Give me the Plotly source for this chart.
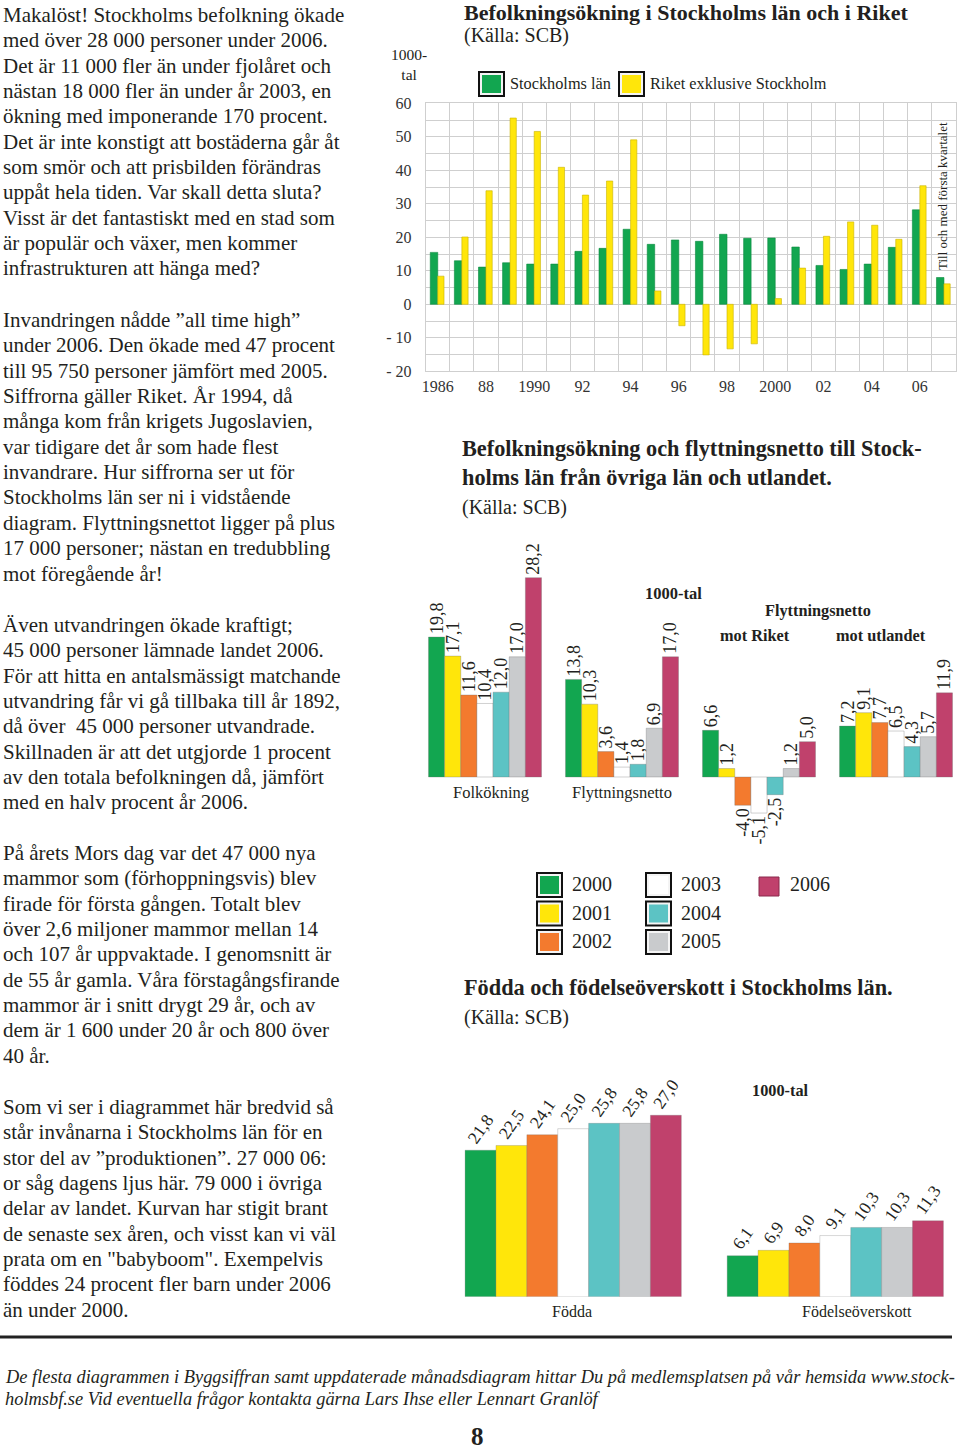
import plotly.graph_objects as go

W, H = 960, 1452
SERIF = "Liberation Serif, Times New Roman, serif"
INK = "#231f20"
GRID = "#cfcfcf"

# --- Befolkningsökning i Stockholms län och i Riket (1000-tal) ---
years = list(range(1986, 2008))
stockholm = [15.5, 13.0, 11.1, 12.4, 12.0, 12.0, 15.8, 16.7, 22.4, 17.9, 19.2,
             18.8, 20.9, 19.7, 19.8, 17.1, 11.6, 10.4, 12.0, 17.0, 28.2, 8.0]
riket = [8.4, 20.1, 33.9, 55.6, 51.6, 40.9, 32.6, 36.8, 49.1, 4.0, -6.4,
         -15.1, -13.3, -11.8, 1.7, 10.8, 20.3, 24.6, 23.6, 19.4, 35.4, 6.1]
year_ticks = [1986, 1988, 1990, 1992, 1994, 1996, 1998, 2000, 2002, 2004, 2006]
year_ticktext = ["1986", "88", "1990", "92", "94", "96", "98", "2000", "02", "04", "06"]
y_ticks = [-20, -10, 0, 10, 20, 30, 40, 50, 60]
y_ticktext = ["- 20", "- 10", "0", "10", "20", "30", "40", "50", "60"]
top_series = ["Stockholms län", "Riket exklusive Stockholm"]

# --- Befolkningsökning och flyttningsnetto 2000-2006 (1000-tal) ---
bar_years = ["2000", "2001", "2002", "2003", "2004", "2005", "2006"]
mid_categories = ["Folkökning", "Flyttningsnetto", "mot Riket", "mot utlandet"]
folkokning = [19.8, 17.1, 11.6, 10.4, 12.0, 17.0, 28.2]
flyttningsnetto = [13.8, 10.3, 3.6, 1.4, 1.8, 6.9, 17.0]
mot_riket = [6.6, 1.2, -4.0, -5.1, -2.5, 1.2, 5.0]
mot_utlandet = [7.2, 9.1, 7.7, 6.5, 4.3, 5.7, 11.9]

# --- Födda och födelseöverskott (1000-tal) ---
low_categories = ["Födda", "Födelseöverskott"]
fodda = [21.8, 22.5, 24.1, 25.0, 25.8, 25.8, 27.0]
fodelseoverskott = [6.1, 6.9, 8.0, 9.1, 10.3, 10.3, 11.3]

top_colors = ["#12a650", "#ffe60a"]
top_edges = ["#0b8a40", "#c9b300"]
year_colors = ["#12a650", "#ffe60a", "#f37a2e", "#ffffff", "#5cc3c4", "#c9cbcd", "#c0416c"]


def px(x):
    return x / W


def py(y):
    return 1 - y / H


def fmt(v):
    return f"{v:.1f}".replace(".", ",")


fig = go.Figure()

# top chart: green bar left of group centre, yellow right
fig.add_trace(go.Bar(x=years, y=stockholm, name=top_series[0], offset=-0.31, width=0.31,
                     marker=dict(color=top_colors[0], line=dict(color=top_edges[0], width=0.6)),
                     xaxis="x", yaxis="y"))
fig.add_trace(go.Bar(x=years, y=riket, name=top_series[1], offset=0.0, width=0.26,
                     marker=dict(color=top_colors[1], line=dict(color=top_edges[1], width=0.6)),
                     xaxis="x", yaxis="y"))

mid_font = dict(family=SERIF, size=18, color=INK)
low_font = dict(family=SERIF, size=17.5, color=INK)
for i, yr in enumerate(bar_years):
    vals = [folkokning[i], flyttningsnetto[i], mot_riket[i], mot_utlandet[i]]
    fig.add_trace(go.Bar(
        x=mid_categories, y=vals, name=yr, text=[fmt(v) for v in vals],
        textposition="outside", textangle=-90, constraintext="none", cliponaxis=False,
        textfont=mid_font, outsidetextfont=mid_font,
        marker=dict(color=year_colors[i], line=dict(color="rgba(110,110,110,0.55)", width=0.6)),
        xaxis="x2", yaxis="y2"))
    vals = [fodda[i], fodelseoverskott[i]]
    fig.add_trace(go.Bar(
        x=low_categories, y=vals, name=yr, text=[fmt(v) for v in vals],
        textposition="outside", textangle=-55, constraintext="none", cliponaxis=False,
        textfont=low_font, outsidetextfont=low_font,
        marker=dict(color=year_colors[i], line=dict(color="rgba(110,110,110,0.45)", width=0.6)),
        xaxis="x3", yaxis="y3"))

# axis placement in page pixels
top_l, top_r, top_t, top_b = 425.7, 956, 103.3, 371.3
mid_c0, mid_step, mid_base, mid_unit = 485, 137, 777, 7.07
mid_rng = [-0.5, 3.45]
mid_yr = [-6, 29]
low_c0, low_step, low_base, low_unit = 573.2, 262.1, 1296.7, 6.72
low_rng = [-0.5, 1.47]
low_yr = [0, 30]

tick_font = dict(family=SERIF, size=16, color="#333")
hidden = dict(showgrid=False, zeroline=False, showticklabels=False, showline=False, ticks="",
              automargin=False)

fig.update_layout(
    width=W, height=H, margin=dict(l=0, r=0, t=0, b=0, pad=0, autoexpand=False),
    paper_bgcolor="white", plot_bgcolor="white",
    showlegend=False, barmode="group", bargap=0.175, bargroupgap=0,
    font=dict(family=SERIF, color=INK),
    xaxis=dict(domain=[px(top_l), px(top_r)], range=[1985.5, 2007.5], automargin=False,
               tickmode="array", tickvals=year_ticks, ticktext=year_ticktext,
               showgrid=False, zeroline=False, ticks="", tickfont=tick_font,
               showline=True, mirror=True, linecolor=GRID, linewidth=1,
               minor=dict(tick0=1985.5, dtick=1, showgrid=True, gridcolor=GRID, gridwidth=1, ticks="")),
    yaxis=dict(domain=[py(top_b), py(top_t)], range=[-20, 60], automargin=False,
               tickmode="array", tickvals=y_ticks, ticktext=y_ticktext,
               showgrid=True, gridcolor=GRID, gridwidth=1, zeroline=False, ticks="",
               tickfont=tick_font, ticklabelstandoff=10,
               showline=True, mirror=True, linecolor=GRID, linewidth=1,
               minor=dict(dtick=5, showgrid=True, gridcolor=GRID, gridwidth=1, ticks="")),
    xaxis2=dict(domain=[px(mid_c0 + mid_rng[0] * mid_step), px(mid_c0 + mid_rng[1] * mid_step)],
                range=mid_rng, anchor="y2", **hidden),
    yaxis2=dict(domain=[py(mid_base - mid_yr[0] * mid_unit), py(mid_base - mid_yr[1] * mid_unit)],
                range=mid_yr, anchor="x2", **hidden),
    xaxis3=dict(domain=[px(low_c0 + low_rng[0] * low_step), px(low_c0 + low_rng[1] * low_step)],
                range=low_rng, anchor="y3", **hidden),
    yaxis3=dict(domain=[py(low_base - low_yr[0] * low_unit), py(low_base - low_yr[1] * low_unit)],
                range=low_yr, anchor="x3", **hidden),
)

annotations = []
shapes = []


def txt(x, y, s, size=20, anchor="left", color=INK, **kw):
    annotations.append(dict(x=px(x), y=py(y), xref="paper", yref="paper", text=s,
                            showarrow=False, xanchor=anchor, yanchor="middle", borderpad=0,
                            font=dict(family=SERIF, size=size, color=color), **kw))


def swatch(x, y, w, h, color, framed=True):
    if framed:
        shapes.append(dict(type="rect", xref="paper", yref="paper", x0=px(x), x1=px(x + w),
                           y0=py(y + h), y1=py(y), line=dict(color="#111", width=2), fillcolor="#f4f4f4"))
        shapes.append(dict(type="rect", xref="paper", yref="paper", x0=px(x + 3), x1=px(x + w - 3),
                           y0=py(y + h - 3), y1=py(y + 3), line=dict(width=0), fillcolor=color))
    else:
        shapes.append(dict(type="rect", xref="paper", yref="paper", x0=px(x), x1=px(x + w),
                           y0=py(y + h), y1=py(y), line=dict(color="#8a2a4c", width=1), fillcolor=color))


# left column text
paragraphs = [
    (15, ["Makalöst! Stockholms befolkning ökade",
          "med över 28 000 personer under 2006.",
          "Det är 11 000 fler än under fjolåret och",
          "nästan 18 000 fler än under år 2003, en",
          "ökning med imponerande 170 procent.",
          "Det är inte konstigt att bostäderna går åt",
          "som smör och att prisbilden förändras",
          "uppåt hela tiden. Var skall detta sluta?",
          "Visst är det fantastiskt med en stad som",
          "är populär och växer, men kommer",
          "infrastrukturen att hänga med?"]),
    (320, ["Invandringen nådde ”all time high”",
           "under 2006. Den ökade med 47 procent",
           "till 95 750 personer jämfört med 2005.",
           "Siffrorna gäller Riket. År 1994, då",
           "många kom från krigets Jugoslavien,",
           "var tidigare det år som hade flest",
           "invandrare. Hur siffrorna ser ut för",
           "Stockholms län ser ni i vidstående",
           "diagram. Flyttningsnettot ligger på plus",
           "17 000 personer; nästan en tredubbling",
           "mot föregående år!"]),
    (625, ["Även utvandringen ökade kraftigt;",
           "45 000 personer lämnade landet 2006.",
           "För att hitta en antalsmässigt matchande",
           "utvandring får vi gå tillbaka till år 1892,",
           "då över  45 000 personer utvandrade.",
           "Skillnaden är att det utgjorde 1 procent",
           "av den totala befolkningen då, jämfört",
           "med en halv procent år 2006."]),
    (853, ["På årets Mors dag var det 47 000 nya",
           "mammor som (förhoppningsvis) blev",
           "firade för första gången. Totalt blev",
           "över 2,6 miljoner mammor mellan 14",
           "och 107 år uppvaktade. I genomsnitt är",
           "de 55 år gamla. Våra förstagångsfirande",
           "mammor är i snitt drygt 29 år, och av",
           "dem är 1 600 under 20 år och 800 över",
           "40 år."]),
    (1107, ["Som vi ser i diagrammet här bredvid så",
            "står invånarna i Stockholms län för en",
            "stor del av ”produktionen”. 27 000 06:",
            "or såg dagens ljus här. 79 000 i övriga",
            "delar av landet. Kurvan har stigit brant",
            "de senaste sex åren, och visst kan vi väl",
            "prata om en \"babyboom\". Exempelvis",
            "föddes 24 procent fler barn under 2006",
            "än under 2000."]),
]
for y0, lines in paragraphs:
    for k, line in enumerate(lines):
        txt(2, y0 + k * 25.35, line, size=21)

# top chart titles, legend, labels
txt(463, 13, "<b>Befolkningsökning i Stockholms län och i Riket</b>", size=22)
txt(463, 35, "(Källa: SCB)", size=20)
txt(409, 65, "1000-<br>tal", size=15.5, anchor="center")
for k, (name, col) in enumerate(zip(top_series, top_colors)):
    x0 = 479 + k * 140
    swatch(x0, 72, 25, 24, col)
    txt(x0 + 30, 83, name, size=16.3)
annotations.append(dict(x=px(942), y=py(196), xref="paper", yref="paper",
                        text="Till och med första kvartalet", showarrow=False, textangle=-90,
                        xanchor="center", yanchor="middle", borderpad=0,
                        font=dict(family=SERIF, size=13, color=INK)))

# middle chart
txt(461, 448, "<b>Befolkningsökning och flyttningsnetto till Stock-</b>", size=22.3)
txt(461, 477, "<b>holms län från övriga län och utlandet.</b>", size=22.3)
txt(461, 507, "(Källa: SCB)", size=20)
txt(673, 593, "<b>1000-tal</b>", size=16.5, anchor="center")
txt(818, 610, "<b>Flyttningsnetto</b>", size=16.3, anchor="center")
for cat, shift in zip(mid_categories[2:], [-4, -15]):
    annotations.append(dict(x=cat, y=py(635), xref="x2", yref="paper", xshift=shift, text=f"<b>{cat}</b>",
                            showarrow=False, xanchor="center", yanchor="middle",
                            font=dict(family=SERIF, size=16.3, color=INK)))
for cat, shift in zip(mid_categories[:2], [6, 0]):
    annotations.append(dict(x=cat, y=0, xref="x2", yref="y2", xshift=shift, yshift=-4, text=cat,
                            showarrow=False, xanchor="center", yanchor="top",
                            font=dict(family=SERIF, size=16.5, color=INK)))

# year legend (three columns)
for i, (yr, col) in enumerate(zip(bar_years, year_colors)):
    c, r = divmod(i, 3)
    x0 = [537, 646, 758][c]
    if c < 2:
        swatch(x0, 873 + r * 28.5, 25, 24, col)
        txt(x0 + 34, 884 + r * 28.5, yr, size=20)
    else:
        swatch(x0 + 1, 877 + r * 28.5, 20, 19, col, framed=False)
        txt(x0 + 31, 884 + r * 28.5, yr, size=20)

# bottom chart
txt(463, 987, "<b>Födda och födelseöverskott i Stockholms län.</b>", size=22.3)
txt(463, 1017, "(Källa: SCB)", size=20)
txt(780, 1090, "<b>1000-tal</b>", size=16.3, anchor="center")
for cat, shift in zip(low_categories, [-1, 22]):
    annotations.append(dict(x=cat, y=0, xref="x3", yref="y3", xshift=shift, yshift=-4, text=cat,
                            showarrow=False, xanchor="center", yanchor="top",
                            font=dict(family=SERIF, size=16, color=INK)))

# footer
shapes.append(dict(type="line", xref="paper", yref="paper", x0=0, x1=px(952), y0=py(1337), y1=py(1337),
                   line=dict(color="#222", width=3)))
txt(4, 1377, "<i>De flesta diagrammen i Byggsiffran samt uppdaterade månadsdiagram hittar Du på "
             "medlemsplatsen på vår hemsida www.stock-</i>", size=18.4)
txt(4, 1399, "<i>holmsbf.se Vid eventuella frågor kontakta gärna Lars Ihse eller Lennart Granlöf</i>", size=18.4)
txt(477, 1436, "<b>8</b>", size=25, anchor="center")

fig.update_layout(annotations=annotations, shapes=shapes)
# the page is laid out edge to edge, like the printed original
fig.write_html("out.html", config={"staticPlot": True},
               post_script="document.body.style.margin='0px';")
